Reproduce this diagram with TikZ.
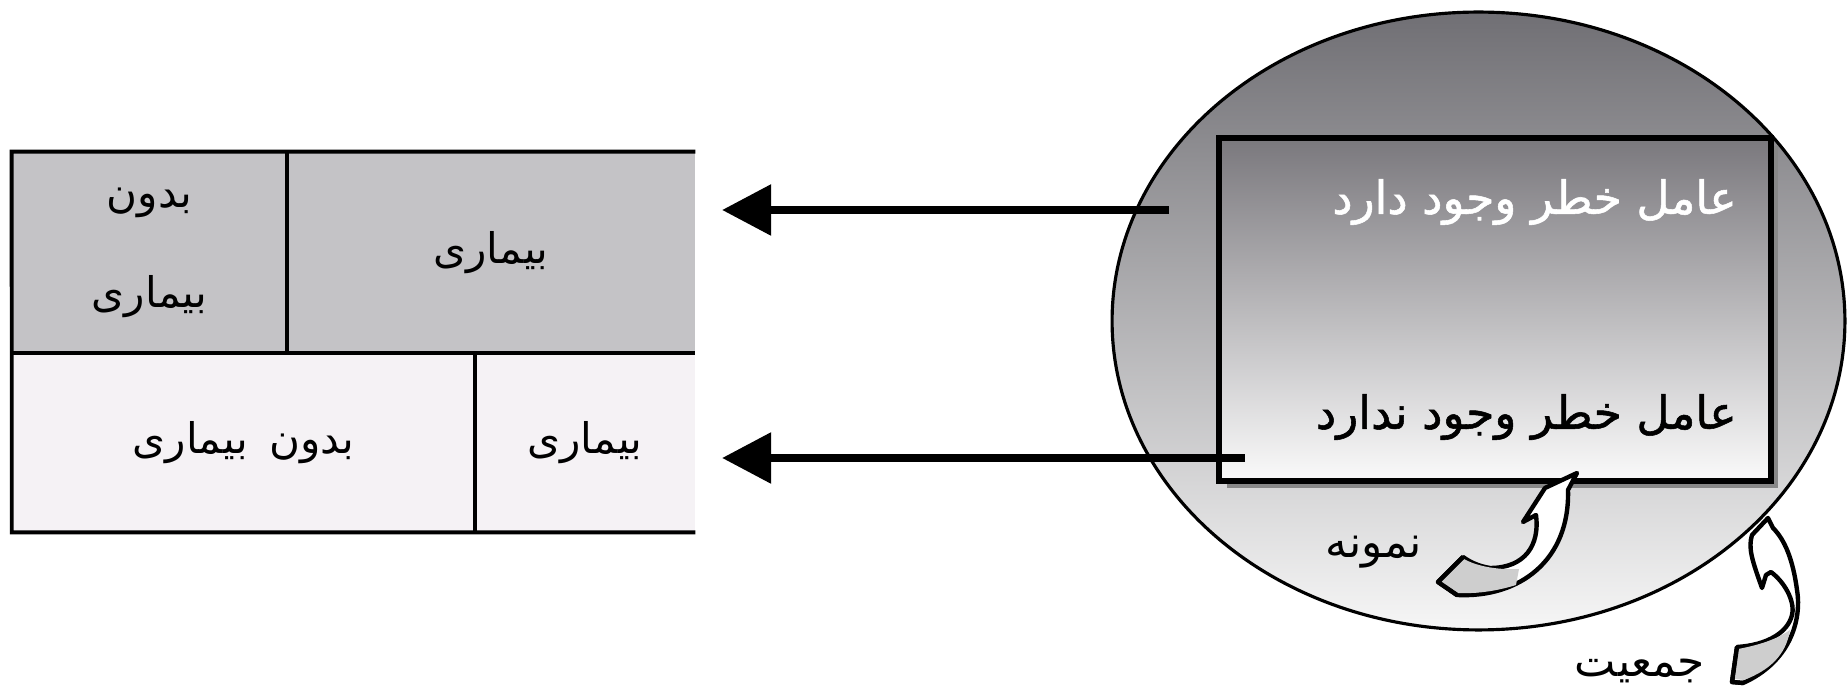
\documentclass[tikz,border=0pt]{standalone}
\usepackage{fontspec}
\newfontfamily\fa[Script=Arabic, WordSpace=1.6]{DejaVu Sans}
\newfontfamily\fab[Script=Arabic, FakeBold=1.2]{DejaVu Sans}
\TeXXeTstate=1
\usetikzlibrary{arrows.meta,shapes.geometric,shadows}
\definecolor{rowtop}{RGB}{196,195,198}
\definecolor{rowbot}{RGB}{245,242,245}
\definecolor{elltop}{RGB}{112,111,116}
\definecolor{ellbot}{RGB}{246,246,246}
\definecolor{recttop}{RGB}{122,120,125}
\definecolor{rectbot}{RGB}{250,250,250}
\definecolor{tailgray}{RGB}{206,206,206}
\definecolor{shadowgray}{RGB}{136,136,136}
\begin{document}
\begin{tikzpicture}[x=0.02cm,y=-0.02cm,
  txt/.style={font=\fa\fontsize{25}{57}\selectfont, inner sep=0pt, align=center},
  boldtxt/.style={font=\fab\fontsize{26}{57}\selectfont, inner sep=0pt},
  cellbox/.style={inner sep=0pt, draw=none, font=\fa\fontsize{24}{57}\selectfont, align=center},
  conn/.style={line width=5pt, -{Triangle[length=28pt,width=28pt]}},
  tline/.style={line width=2.2pt},
  bendarrow/.style={line width=2.5pt, line join=round, fill=white},
  tailpart/.style={fill=tailgray, draw=none},
]
\useasboundingbox (0,0) rectangle (1847,695);

% table cells
\node[cellbox, fill=rowtop, minimum width=5.5cm, minimum height=4.02cm] (c11) at (149.5,252.5) {\beginR بدون\endR\\\beginR بیماری\endR};
\node[cellbox, fill=rowtop, minimum width=8.16cm, minimum height=4.02cm] (c12) at (491,252.5) {\beginR بیماری\endR};
\node[cellbox, fill=rowbot, minimum width=9.26cm, minimum height=3.58cm] (c21) at (243.5,442.5) {\beginR بدون بیماری\endR};
\node[cellbox, fill=rowbot, minimum width=4.4cm, minimum height=3.58cm] (c22) at (585,442.5) {\beginR بیماری\endR};
\draw[tline] (c12.north east) -- (c11.north west) -- (c21.south west) -- (c22.south east);
\draw[tline] (c11.south west) -- (c12.south east);
\draw[tline] (c11.north east) -- (c11.south east);
\draw[tline] (c21.north east) -- (c21.south east);

% population ellipse
\node[ellipse, draw, line width=1.8pt, minimum width=14.66cm, minimum height=12.36cm,
  top color=elltop, bottom color=ellbot, inner sep=0pt] (pop) at (1478.5,321) {};

% sample rectangle
\node[draw, line width=3.4pt, minimum width=11.04cm, minimum height=6.86cm, inner sep=0pt,
  top color=recttop, bottom color=rectbot,
  drop shadow={shadow xshift=0.15cm, shadow yshift=-0.15cm, fill=shadowgray, opacity=1}] (samp) at (1495,309.5) {};

\node[boldtxt, text=white, anchor=east] (yes) at (1737,202) {\beginR عامل خطر وجود دارد\endR};
\node[boldtxt, anchor=east] (no) at (1737,417) {\beginR عامل خطر وجود ندارد\endR};

% arrows
\coordinate (s1) at (1169,210);
\coordinate (e1) at (722,210);
\coordinate (s2) at (1245,458);
\coordinate (e2) at (722,458);
\draw[conn] (s1) -- (e1);
\draw[conn] (s2) -- (e2);

% curved arrow: sample
\draw[bendarrow] (1577,473) -- (1545,488) -- (1523,522) -- (1536,515)
  .. controls (1540,545) and (1525,568) .. (1490,568)
  .. controls (1478,566) and (1470,562) .. (1463,557)
  -- (1438,582) -- (1457,595)
  .. controls (1520,598) and (1570,560) .. (1568,490) -- cycle;
\fill[tailpart] (1464,559) -- (1441,582) -- (1458,593)
  .. controls (1480,594) and (1500,590) .. (1516,585) -- (1519,569)
  .. controls (1500,570) and (1478,567) .. (1464,559) -- cycle;
\draw[line width=2.5pt, line join=round] (1463,557) -- (1438,582) -- (1457,595);

% curved arrow: population
\draw[bendarrow] (1768,518) -- (1752,535)
  .. controls (1748,548) and (1752,560) .. (1762,588) -- (1766,575) -- (1771,572)
  .. controls (1788,585) and (1795,605) .. (1792,615)
  .. controls (1788,632) and (1768,645) .. (1737,647)
  -- (1732,682) -- (1743,683)
  .. controls (1790,662) and (1802,620) .. (1797,590)
  .. controls (1793,560) and (1785,540) .. (1773,528) -- cycle;
\fill[tailpart] (1738,649) -- (1735,679) -- (1744,680)
  .. controls (1770,670) and (1786,655) .. (1790,630)
  .. controls (1780,637) and (1765,644) .. (1738,649) -- cycle;
\draw[line width=2.5pt, line join=round] (1737,647) -- (1732,682) -- (1743,683);

\node[txt] (lsamp) at (1374,552) {\beginR نمونه\endR};
\node[txt] (lpop) at (1640,671) {\beginR جمعیت\endR};
\end{tikzpicture}
\end{document}
